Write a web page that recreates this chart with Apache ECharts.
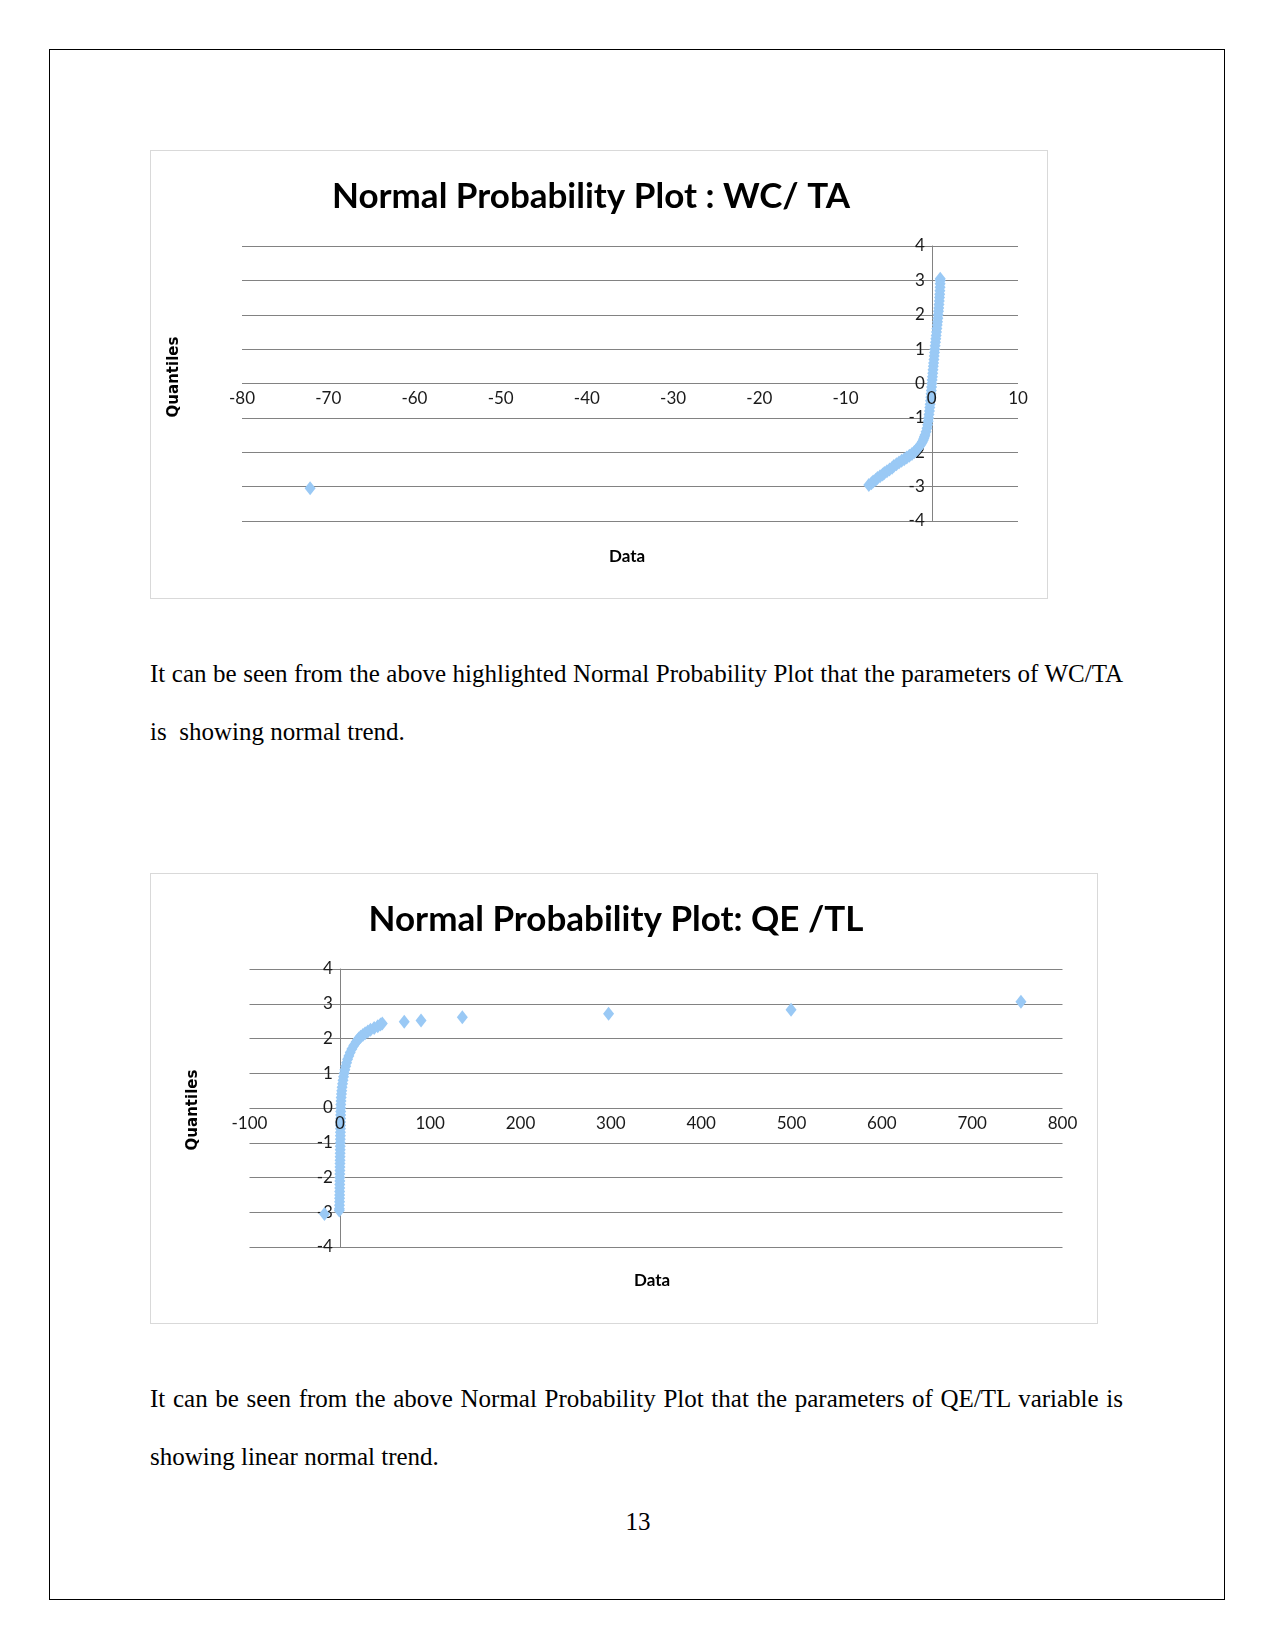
<!DOCTYPE html>
<html>
<head>
<meta charset="utf-8">
<script src="https://cdn.jsdelivr.net/npm/echarts@6/dist/echarts.min.js"></script>
<style>
html,body{margin:0;padding:0;background:#fff;}
#page{position:relative;width:1275px;height:1651px;overflow:hidden;background:#fff;}
#chart{position:absolute;left:0;top:0;width:1275px;height:1651px;}
.bx{position:absolute;box-sizing:border-box;}
.p{position:absolute;font-family:"Liberation Serif","Times New Roman",serif;font-size:25px;line-height:25px;color:#000;white-space:pre;}
.j{text-align:justify;text-align-last:justify;width:973px;}
</style>
</head>
<body>
<div id="page">
  <div class="bx" style="left:49px;top:49px;width:1176px;height:1551px;border:1px solid #000;"></div>
  <div class="bx" style="left:150px;top:150px;width:898px;height:449px;border:1px solid #d9d9d9;"></div>
  <div class="bx" style="left:150px;top:873px;width:948px;height:451px;border:1px solid #d9d9d9;"></div>
  <div class="p j" style="left:150px;top:661px;">It can be seen from the above highlighted Normal Probability Plot that the parameters of WC/TA</div>
  <div class="p" style="left:150px;top:719px;">is  showing normal trend.</div>
  <div class="p j" style="left:150px;top:1386px;">It can be seen from the above Normal Probability Plot that the parameters of QE/TL variable is</div>
  <div class="p" style="left:150px;top:1444px;">showing linear normal trend.</div>
  <div class="p" style="left:612px;top:1509px;width:52px;text-align:center;">13</div>
  <div id="chart"></div>
</div>
<script>
// ---- Chart 1: WC / TA  (Data value, normal quantile) ----
const wcData = [-72.1,
  -7.3, -7.0, -6.8, -6.5, -6.3, -6.0, -5.7, -5.5, -5.2, -4.9, -4.6, -4.4, -4.1, -3.8, -3.5, -3.2, -2.9, -2.6, -2.3,
  -2.05, -1.85, -1.65, -1.5, -1.35, -1.22, -1.1, -1.0, -0.92, -0.85, -0.78,
  -0.66, -0.56, -0.48, -0.42, -0.37, -0.32, -0.27, -0.23, -0.19, -0.15, -0.11, -0.08, -0.05, -0.02,
  0.01, 0.04, 0.08, 0.11, 0.14, 0.18, 0.21, 0.25, 0.28, 0.32, 0.35, 0.39, 0.43, 0.47, 0.51, 0.55,
  0.59, 0.63, 0.67, 0.71, 0.74, 0.78, 0.81, 0.84, 0.87, 0.9, 0.92, 0.94, 0.96, 0.97, 0.98, 0.98];
const wcQuantiles = [-3.05,
  -2.95, -2.9, -2.85, -2.8, -2.75, -2.7, -2.65, -2.6, -2.55, -2.5, -2.45, -2.4, -2.35, -2.3, -2.25, -2.2, -2.15, -2.1, -2.05,
  -2.0, -1.95, -1.9, -1.85, -1.8, -1.75, -1.7, -1.65, -1.6, -1.55, -1.5,
  -1.4, -1.3, -1.2, -1.1, -1.0, -0.9, -0.8, -0.7, -0.6, -0.5, -0.4, -0.3, -0.2, -0.1,
  0.0, 0.1, 0.2, 0.3, 0.4, 0.5, 0.6, 0.7, 0.8, 0.9, 1.0, 1.1, 1.2, 1.3, 1.4, 1.5,
  1.6, 1.7, 1.8, 1.9, 2.0, 2.1, 2.2, 2.3, 2.4, 2.5, 2.6, 2.7, 2.8, 2.9, 3.0, 3.05];

// ---- Chart 2: QE / TL ----
const qeData = [-17,
  -0.6, -0.5, -0.4, -0.3, -0.3, -0.2, -0.2, -0.1, -0.1, 0.0, 0.0,
  0.05, 0.1, 0.15, 0.2, 0.25, 0.3, 0.35, 0.4, 0.45, 0.5, 0.55, 0.6, 0.65, 0.7, 0.75, 0.8, 0.85, 0.9, 0.95,
  1.0, 1.1, 1.3, 1.5, 1.8, 2.1, 2.5, 3.0, 3.5, 4.1, 4.8, 5.6, 6.5, 7.5, 8.6, 10.0,
  11.5, 13.3, 15.5, 18.0, 19.5, 21.0, 23.0, 25.5, 28.0, 31.0, 34.0, 38.0, 42.0, 45.0, 47.0,
  71.3, 89.9, 135.6, 297.5, 499.5, 754];
const qeQuantiles = [-3.05,
  -2.95, -2.9, -2.8, -2.7, -2.6, -2.5, -2.4, -2.3, -2.2, -2.1, -2.0,
  -1.9, -1.8, -1.7, -1.6, -1.5, -1.4, -1.3, -1.2, -1.1, -1.0, -0.9, -0.8, -0.7, -0.6, -0.5, -0.4, -0.3, -0.2, -0.1,
  0.0, 0.1, 0.2, 0.3, 0.4, 0.5, 0.6, 0.7, 0.8, 0.9, 1.0, 1.1, 1.2, 1.3, 1.4, 1.5,
  1.6, 1.7, 1.8, 1.9, 1.95, 2.0, 2.05, 2.1, 2.15, 2.2, 2.25, 2.3, 2.35, 2.4, 2.43,
  2.48, 2.52, 2.61, 2.71, 2.83, 3.06];

// ---- axis ticks ----
const wcXTicks = [-80, -70, -60, -50, -40, -30, -20, -10, 0, 10];
const qeXTicks = [-100, 0, 100, 200, 300, 400, 500, 600, 700, 800];
const quantileTicks = [-4, -3, -2, -1, 0, 1, 2, 3, 4];

const titles = ['Normal Probability Plot : WC/ TA', 'Normal Probability Plot: QE /TL'];

function zip(a, b) { return a.map((v, i) => [v, b[i]]); }

const GRID = '#828282';
const MARK = '#9ac9f5';
const labelFont = { fontFamily: 'Lato', fontSize: 17, color: '#1a1a1a' };

const grids = [
  { left: 242, top: 246, width: 776, height: 275 },
  { left: 249.5, top: 969, width: 813, height: 278 }
];

// axes cross at zero: shift each axis from its grid edge to the zero of the other axis
function zeroShift(ticks, span) {
  const lo = ticks[0], hi = ticks[ticks.length - 1];
  return (0 - lo) / (hi - lo) * span;
}

function xAxisFor(idx, ticks) {
  return {
    gridIndex: idx, type: 'value', position: 'bottom', z: 5,
    offset: -zeroShift(quantileTicks, grids[idx].height),
    min: ticks[0], max: ticks[ticks.length - 1], interval: ticks[1] - ticks[0],
    axisLine: { show: false, onZero: false },
    axisTick: { show: false },
    splitLine: { show: false },
    axisLabel: Object.assign({ margin: 7, showMinLabel: true, showMaxLabel: true }, labelFont)
  };
}
function yAxisFor(idx, xticks) {
  return {
    gridIndex: idx, type: 'value', position: 'left',
    offset: -zeroShift(xticks, grids[idx].width),
    min: quantileTicks[0], max: quantileTicks[quantileTicks.length - 1], interval: 1,
    axisLine: { show: true, onZero: false, lineStyle: { color: GRID, width: 1 } },
    axisTick: { show: false },
    splitLine: { show: true, lineStyle: { color: GRID, width: 1 } },
    axisLabel: Object.assign({ margin: 7, showMinLabel: true, showMaxLabel: true }, labelFont)
  };
}

const chart = echarts.init(document.getElementById('chart'), null, { renderer: 'canvas' });
chart.setOption({
  animation: false,
  backgroundColor: 'transparent',
  grid: grids.map(g => Object.assign({ outerBoundsMode: 'none', containLabel: false }, g)),
  xAxis: [xAxisFor(0, wcXTicks), xAxisFor(1, qeXTicks)],
  yAxis: [yAxisFor(0, wcXTicks), yAxisFor(1, qeXTicks)],
  series: [
    { type: 'scatter', xAxisIndex: 0, yAxisIndex: 0, data: zip(wcData, wcQuantiles),
      symbol: 'diamond', symbolSize: [11, 14], itemStyle: { color: MARK, opacity: 1 } },
    { type: 'scatter', xAxisIndex: 1, yAxisIndex: 1, data: zip(qeData, qeQuantiles),
      symbol: 'diamond', symbolSize: [11, 14], itemStyle: { color: MARK, opacity: 1 } }
  ],
  graphic: [
    { type: 'text', x: 591, y: 197, style: { text: titles[0], font: 'bold 35px Lato', fill: '#000', textAlign: 'center', textVerticalAlign: 'middle' } },
    { type: 'text', x: 616, y: 920, style: { text: titles[1], font: 'bold 35px Lato', fill: '#000', textAlign: 'center', textVerticalAlign: 'middle' } },
    { type: 'text', x: 627, y: 557, style: { text: 'Data', font: 'bold 17px Lato', fill: '#000', textAlign: 'center', textVerticalAlign: 'middle' } },
    { type: 'text', x: 652, y: 1281, style: { text: 'Data', font: 'bold 17px Lato', fill: '#000', textAlign: 'center', textVerticalAlign: 'middle' } },
    { type: 'text', x: 174, y: 377, rotation: Math.PI / 2, style: { text: 'Quantiles', font: 'bold 15px "DejaVu Sans"', fill: '#000', textAlign: 'center', textVerticalAlign: 'middle' } },
    { type: 'text', x: 193, y: 1110, rotation: Math.PI / 2, style: { text: 'Quantiles', font: 'bold 15px "DejaVu Sans"', fill: '#000', textAlign: 'center', textVerticalAlign: 'middle' } }
  ]
});
</script>
</body>
</html>
